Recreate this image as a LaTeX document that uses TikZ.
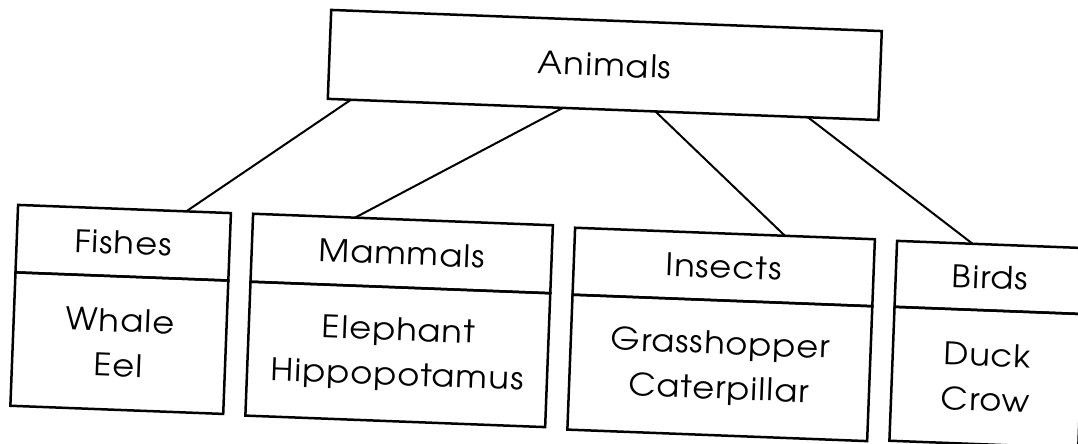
\documentclass[tikz,border=0pt]{standalone}
\usepackage{fontspec}
\setmainfont[FakeStretch=1.08,LetterSpace=4]{TeX Gyre Adventor}
\usetikzlibrary{calc}
\begin{document}
\begin{tikzpicture}[x=1pt,y=-1pt,
  box/.style={draw, line width=2.5pt, rotate=-2.2, inner sep=0pt, outer sep=0pt,
    align=center, font=\fontsize{31}{45}\selectfont},
  bodytext/.style={text depth=12pt},
  link/.style={line width=2pt}]
\useasboundingbox (0,0) rectangle (1078,444);
\fill[white] (0,0) rectangle (1078,444);
\clip (0,0) rectangle (1078,444);
% top box
\node[box, anchor=north, minimum width=551pt, minimum height=89pt] (anim) at (606.5,20.5) {Animals};
% Fishes
\node[box, anchor=north, minimum width=213pt, minimum height=67.5pt] (fish) at (124.5,209) {Fishes};
\node[box, anchor=north, minimum width=213pt, minimum height=133.5pt] (fishb) at (fish.south) {Whale\\Eel};
% Mammals
\node[box, anchor=north, minimum width=300pt, minimum height=68pt] (mamm) at (403,219.5) {Mammals};
\node[box, anchor=north, minimum width=300pt, minimum height=134pt] (mammb) at (mamm.south) {Elephant\\Hippopotamus};
% Insects
\node[box, anchor=north, minimum width=300pt, minimum height=67pt] (inse) at (725,233.5) {Insects};
\node[box, anchor=north, minimum width=300pt, minimum height=135pt] (inseb) at (inse.south) {Grasshopper\\Caterpillar};
% Birds
\node[box, anchor=north, minimum width=189pt, minimum height=66pt] (bird) at (991.5,244.5) {Birds};
\node[box, anchor=north, minimum width=189pt, minimum height=134pt] (birdb) at (bird.south) {Duck\\Crow};
% connectors
\draw[link] ($(anim.south west)!0.042!(anim.south east)$) -- ($(fish.north west)!0.79!(fish.north east)$);
\draw[link] ($(anim.south west)!0.427!(anim.south east)$) -- ($(mamm.north west)!0.34!(mamm.north east)$);
\draw[link] ($(anim.south west)!0.595!(anim.south east)$) -- ($(inse.north west)!0.70!(inse.north east)$);
\draw[link] ($(anim.south west)!0.872!(anim.south east)$) -- ($(bird.north west)!0.40!(bird.north east)$);
\end{tikzpicture}
\end{document}
